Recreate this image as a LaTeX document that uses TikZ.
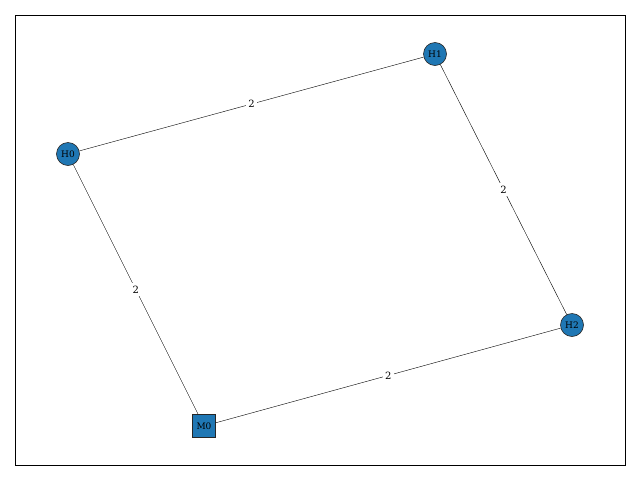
\documentclass[tikz,border=0pt]{standalone}
\usepackage{fontspec}
\setmainfont{DejaVu Serif}
\definecolor{mplblue}{HTML}{1F77B4}
\tikzset{
  hub/.style={circle, draw=black!85, line width=0.6pt, fill=mplblue, minimum size=23pt, inner sep=0pt, font=\fontsize{9}{10}\selectfont},
  mnode/.style={rectangle, draw=black!85, line width=0.6pt, fill=mplblue, minimum size=23pt, inner sep=0pt, font=\fontsize{9}{10}\selectfont},
  edge/.style={draw=black, line width=0.4pt},
  elabel/.style={fill=white, inner sep=2.5pt, font=\fontsize{10}{11}\selectfont}
}
\begin{document}
\begin{tikzpicture}[x=1pt,y=-1pt]
\useasboundingbox (0,0) rectangle (640,480);
\draw[line width=0.6pt] (15,15) rectangle (625,465);
\node[hub] (H1) at (435,54) {H1};
\node[hub] (H0) at (68,154) {H0};
\node[hub] (H2) at (572,325) {H2};
\node[mnode] (M0) at (204,426) {M0};
\path[edge] (H0) -- node[elabel]{2} (H1);
\path[edge] (H1) -- node[elabel]{2} (H2);
\path[edge] (H0) -- node[elabel]{2} (M0);
\path[edge] (M0) -- node[elabel]{2} (H2);
\end{tikzpicture}
\end{document}
